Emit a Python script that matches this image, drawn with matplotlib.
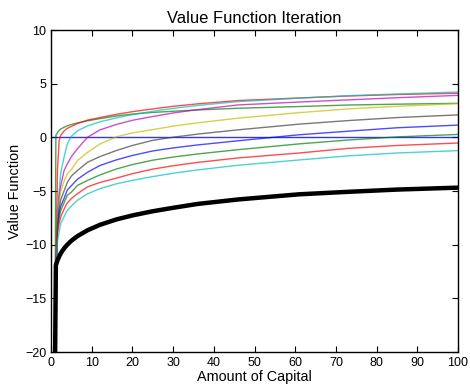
import matplotlib
matplotlib.use("Agg")
import matplotlib.pyplot as plt
import numpy as np

plt.rcParams['font.family'] = ['Liberation Sans', 'DejaVu Sans']

# capital grid
K = [0.2, 0.9, 1.2, 1.6, 2, 2.4, 3.2, 4, 5, 6.5, 9, 12, 16, 20, 25, 30, 36, 46, 61, 73, 85, 100]

# value function iterations (MATLAB colour order b, g, r, c, m, y, k, b, g, r, c)
v0 = [0] * len(K)
v1 = [-30, -25, 0.2, 0.45, 0.65, 0.78, 0.95, 1.08, 1.2, 1.35, 1.55, 1.75, 2.0, 2.18, 2.33, 2.44, 2.56, 2.72, 2.88, 3.02, 3.1, 3.18]
v2 = [-30, -22, -12, -3, -0.3, 0.2, 0.6, 0.85, 1.02, 1.3, 1.62, 1.85, 2.15, 2.4, 2.66, 2.9, 3.13, 3.44, 3.68, 3.86, 4.0, 4.12]
v3 = [-30, -20, -13, -7, -5, -3.3, -1.85, -0.6, 0.1, 0.62, 1.08, 1.45, 1.82, 2.12, 2.44, 2.71, 2.98, 3.34, 3.66, 3.89, 4.05, 4.23]
v4 = [-30, -19, -13, -7.5, -5.5, -4.5, -3.1, -2.47, -1.8, -1.05, 0.02, 0.7, 1.2, 1.6, 1.95, 2.28, 2.59, 3.03, 3.3, 3.5, 3.7, 3.92]
v5 = [-30, -19, -13, -8, -6, -5.0, -4.1, -3.39, -3.0, -2.16, -1.39, -0.62, 0.05, 0.42, 0.73, 1.05, 1.36, 1.8, 2.31, 2.66, 2.9, 3.15]
v6 = [-30, -19, -13, -8.3, -6.6, -5.8, -5.0, -4.2, -3.6, -3.08, -2.31, -1.79, -1.23, -0.75, -0.27, 0.02, 0.31, 0.71, 1.24, 1.57, 1.85, 2.10]
v7 = [-30, -19, -13, -8.6, -7.1, -6.4, -5.7, -4.9, -4.5, -3.9, -3.24, -2.62, -2.1, -1.68, -1.26, -0.98, -0.70, -0.31, 0.25, 0.58, 0.9, 1.15]
v8 = [-30, -18, -12.5, -8.2, -7.5, -6.8, -6.1, -5.4, -5.1, -4.47, -4.0, -3.5, -2.95, -2.53, -2.12, -1.83, -1.54, -1.14, -0.6, -0.24, 0.05, 0.28]
v9 = [-30, -18, -12.5, -8.9, -8.0, -7.4, -6.7, -6.1, -5.7, -5.24, -4.6, -4.2, -3.8, -3.38, -2.95, -2.64, -2.33, -1.91, -1.45, -1.02, -0.75, -0.52]
v10 = [-30, -18, -12.5, -9.7, -8.8, -8.0, -7.4, -6.8, -6.4, -5.86, -5.25, -4.78, -4.33, -4.0, -3.65, -3.34, -3.03, -2.59, -2.1, -1.72, -1.45, -1.23]
v_final = [-30, -25, -11.9, -11.45, -11.1, -10.8, -10.35, -10.0, -9.63, -9.2, -8.65, -8.15, -7.65, -7.27, -6.88, -6.56, -6.2, -5.78, -5.3, -5.07, -4.86, -4.68]

series = [v0, v1, v2, v3, v4, v5, v6, v7, v8, v9, v10]
colors = ['#0000ff', '#008000', '#ff0000', '#00bfbf', '#bf00bf', '#bfbf00', '#404040',
          '#0000ff', '#008000', '#ff0000', '#00bfbf']

fig = plt.figure(figsize=(4.7, 3.85), dpi=100)
ax = fig.add_axes([0.1085, 0.0857, 0.866, 0.836])

ax.plot([0, 100], [v0[0], v0[-1]], color=colors[0], lw=1.0, alpha=0.8)
for s, c in zip(series[1:], colors[1:]):
    ax.plot(K, s, color=c, lw=1.0, alpha=0.7)
ax.plot(K, v_final, color='black', lw=3.2)

ax.set_xlim(0, 100)
ax.set_ylim(-20, 10)
ax.set_xticks(np.arange(0, 101, 10))
ax.set_yticks(np.arange(-20, 11, 5))
ax.tick_params(direction='in', top=True, right=True, labelsize=9, length=4, width=0.8)
for sp in ax.spines.values():
    sp.set_linewidth(1.0)
ax.set_title('Value Function Iteration', fontsize=11.9, pad=5)
ax.set_xlabel('Amount of Capital', fontsize=10.4, labelpad=1)
ax.set_ylabel('Value Function', fontsize=10.4, labelpad=2)

fig.savefig('out.png', dpi=100)
